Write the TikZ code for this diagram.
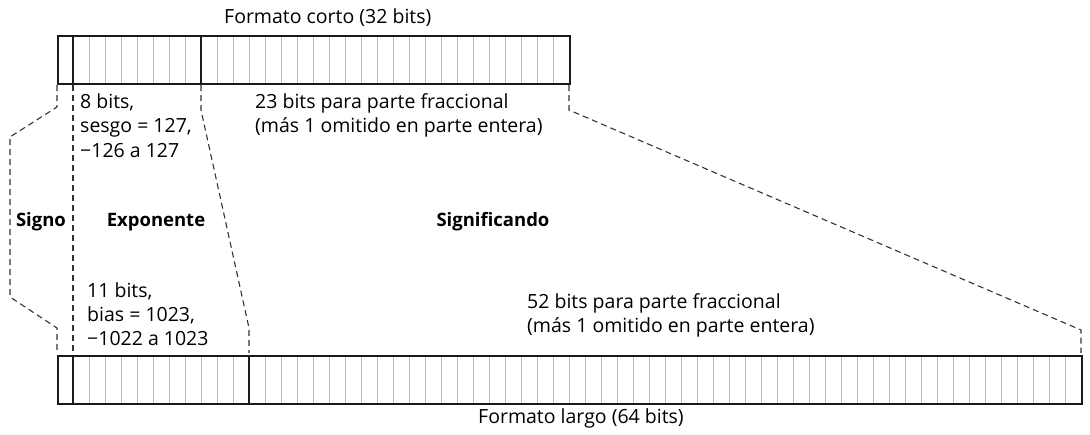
\documentclass[tikz,border=0pt]{standalone}
\usepackage{fontspec}
\setmainfont{Open Sans}
\definecolor{barline}{HTML}{1A1A1A}
\definecolor{cellline}{HTML}{BBBBBB}
\definecolor{dashcol}{HTML}{333333}
\tikzset{
  txt/.style={inner sep=0pt, anchor=base west, font=\fontsize{19.5}{23}\selectfont, text=black},
  btxt/.style={inner sep=0pt, anchor=base, font=\fontsize{18.5}{22}\selectfont\bfseries, text=black},
  cell/.style={draw=cellline, line width=1pt},
  frame/.style={draw=barline, line width=2.2pt},
  guide/.style={draw=dashcol, line width=1.1pt, dash pattern=on 6pt off 4pt},
}
\begin{document}
\begin{tikzpicture}[x=1pt,y=-1pt]
\useasboundingbox (0,0) rectangle (1090,434);
% ---------- short format bar ----------
\foreach \i in {1,...,31} { \draw[cell] (57+16*\i,35) -- (57+16*\i,83); }
\node[frame, inner sep=0pt, anchor=north west, minimum width=512pt, minimum height=48pt] (short) at (57,35) {};
\draw[frame] (73,35) -- (73,83);
\draw[frame] (201,35) -- (201,83);
% ---------- long format bar ----------
\foreach \i in {1,...,63} { \draw[cell] (57+16*\i,355) -- (57+16*\i,403); }
\node[frame, inner sep=0pt, anchor=north west, minimum width=1024pt, minimum height=48pt] (long) at (57,355) {};
\draw[frame] (73,355) -- (73,403);
\draw[frame] (249,355) -- (249,403);
% ---------- connection points ----------
\coordinate (s0) at (57,85);  \coordinate (l0) at (57,353);
\coordinate (s1) at (73,85);  \coordinate (l1) at (73,353);
\coordinate (s2) at (201,85); \coordinate (l2) at (249,353);
\coordinate (s3) at (569,85); \coordinate (l3) at (1081,353);
% ---------- dashed guides ----------
\draw[guide] (s0) -- (57,107) -- (10,137) -- (10,297) -- (57,328) -- (l0);
\draw[guide] (s1) -- (l1);
\draw[guide] (s2) -- (201,110) -- (249,328) -- (l2);
\draw[guide] (s3) -- (569,110) -- (1081,330) -- (l3);
% ---------- texts ----------
\node[txt] (tshort) at (224,23) {Formato corto (32 bits)};
\node[txt] (e8a) at (80,108) {8 bits,};
\node[txt] (e8b) at (80,132.5) {sesgo = 127,};
\node[txt] (e8c) at (80,157) {−126 a 127};
\node[txt] (f23a) at (255,108) {23 bits para parte fraccional};
\node[txt] (f23b) at (255,132.5) {(más 1 omitido en parte entera)};
\node[btxt] (signo) at (41,226) {Signo};
\node[btxt] (expo) at (156,226) {Exponente};
\node[btxt] (signi) at (493,226) {Significando};
\node[txt] (e11a) at (87,297) {11 bits,};
\node[txt] (e11b) at (87,321) {bias = 1023,};
\node[txt] (e11c) at (87,345) {−1022 a 1023};
\node[txt] (f52a) at (527,308) {52 bits para parte fraccional};
\node[txt] (f52b) at (527,332) {(más 1 omitido en parte entera)};
\node[txt] (tlong) at (478,423) {Formato largo (64 bits)};
\end{tikzpicture}
\end{document}
